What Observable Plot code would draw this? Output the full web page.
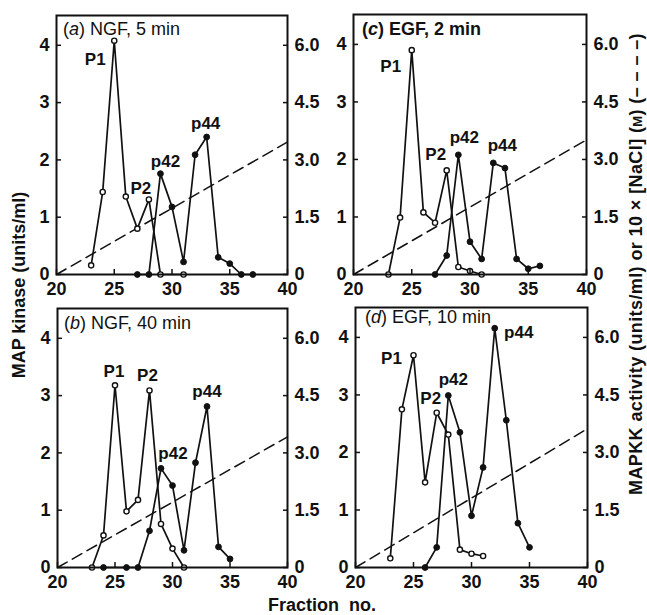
<!DOCTYPE html>
<html><head><meta charset="utf-8">
<script src="https://cdn.jsdelivr.net/npm/d3@7"></script>
<script src="https://cdn.jsdelivr.net/npm/@observablehq/plot@0.6"></script>
<style>
body{margin:0;background:#fff;}
#chart{position:relative;width:647px;height:615px;overflow:hidden;background:#fff;font-family:"Liberation Sans",Arial,Helvetica,sans-serif;}
#chart > svg{position:absolute;}
</style></head><body><div id="chart"></div>
<script>
// ---- axes / ticks ----
const xTicks = [20, 25, 30, 35, 40];
const leftTicks = [0, 1, 2, 3, 4];
const leftTickLabels = ["0", "1", "2", "3", "4"];
const rightTickLabels = ["0", "1.5", "3.0", "4.5", "6.0"];
const fractionRange = [20, 40];
const mapKinaseMax = 4.52;

// ---- (a) NGF, 5 min ----
const aOpenX = [23, 24, 25, 26, 27, 28, 29, 31];
const aOpenY = [0.16, 1.44, 4.08, 1.36, 0.80, 1.31, 0, 0];
const aClosedX = [27, 28, 29, 30, 31, 32, 33, 34, 35, 36, 37];
const aClosedY = [0, 0, 1.76, 1.18, 0.22, 2.09, 2.40, 0.30, 0.19, 0, 0];
const aNaCl = [0, 3.47];

// ---- (b) NGF, 40 min ----
const bOpenX = [23, 24, 25, 26, 27, 28, 29, 30, 31];
const bOpenY = [0, 0.56, 3.18, 0.98, 1.18, 3.09, 0.76, 0.33, 0];
const bClosedX = [24, 26, 27, 28, 29, 30, 31, 32, 33, 34, 35];
const bClosedY = [0, 0, 0, 0.64, 1.73, 1.43, 0.30, 1.83, 2.81, 0.36, 0.15];
const bNaCl = [0, 3.42];

// ---- (c) EGF, 2 min ----
const cOpenX = [23, 24, 25, 26, 27, 28, 29, 30, 31];
const cOpenY = [0, 0.99, 3.90, 1.08, 0.90, 1.81, 0.13, 0.06, 0];
const cClosedX = [27, 28, 29, 30, 31, 32, 33, 34, 35, 36];
const cClosedY = [0, 0.33, 2.08, 0.57, 0.27, 1.94, 1.85, 0.27, 0.10, 0.15];
const cNaCl = [0, 3.51];

// ---- (d) EGF, 10 min ----
const dOpenX = [23, 24, 25, 26, 27, 28, 29, 30, 31];
const dOpenY = [0.16, 2.75, 3.69, 1.48, 2.69, 2.31, 0.31, 0.24, 0.20];
const dClosedX = [26, 27, 28, 29, 30, 31, 32, 33, 34, 35];
const dClosedY = [0, 0.35, 2.99, 2.35, 0.90, 1.74, 4.16, 2.56, 0.77, 0.35];
const dNaCl = [0, 3.62];

// ---- peak labels (anchored at the peak fraction) ----
const peakNames = ["P1", "P2", "p42", "p44"];
const aPeakX = [25, 28, 29, 33];
const bPeakX = [25, 28, 29, 33];
const cPeakX = [25, 28, 29, 32];
const dPeakX = [25, 27, 28, 32];

// ---- panel titles ----
const panelLetters = ["a", "b", "c", "d"];
const panelTitles = [" NGF, 5 min", " NGF, 40 min", " EGF, 2 min", " EGF, 10 min"];

// ---- label offsets (style) ----
const aLabelOff = [[-19, 19], [-8, -11], [5, -12], [-1, -13]];
const bLabelOff = [[-1, -14], [-2, -15], [12, -15], [0, -15]];
const cLabelOff = [[-21, 16], [-11, -16], [6, -17], [9, -17]];
const dLabelOff = [[-22, 3], [-6, -14], [5, -16], [24, 4]];

function pts(X, Y) { return X.map((x, i) => ({x, y: Y[i]})); }
function labelsFor(peakX, openX, openY, closedX, closedY, off) {
  return peakNames.map((name, i) => {
    const isOpen = name[0] === "P";
    const X = isOpen ? openX : closedX, Y = isOpen ? openY : closedY;
    const j = X.indexOf(peakX[i]);
    return {name, x: peakX[i], y: Y[j], dx: off[i][0], dy: off[i][1]};
  });
}

const panels = [
  {open: pts(aOpenX, aOpenY), closed: pts(aClosedX, aClosedY), nacl: aNaCl,
   labels: labelsFor(aPeakX, aOpenX, aOpenY, aClosedX, aClosedY, aLabelOff),
   box: {left: 0, top: 0, width: 320, height: 296, ml: 56, mr: 33, mt: 15, mb: 22}},
  {open: pts(bOpenX, bOpenY), closed: pts(bClosedX, bClosedY), nacl: bNaCl,
   labels: labelsFor(bPeakX, bOpenX, bOpenY, bClosedX, bClosedY, bLabelOff),
   box: {left: 0, top: 296, width: 320, height: 319, ml: 57, mr: 33, mt: 12, mb: 48}},
  {open: pts(cOpenX, cOpenY), closed: pts(cClosedX, cClosedY), nacl: cNaCl,
   labels: labelsFor(cPeakX, cOpenX, cOpenY, cClosedX, cClosedY, cLabelOff),
   box: {left: 320, top: 0, width: 327, height: 296, ml: 33, mr: 61, mt: 14, mb: 22}},
  {open: pts(dOpenX, dOpenY), closed: pts(dClosedX, dClosedY), nacl: dNaCl,
   labels: labelsFor(dPeakX, dOpenX, dOpenY, dClosedX, dClosedY, dLabelOff),
   box: {left: 320, top: 296, width: 327, height: 319, ml: 35, mr: 60, mt: 11, mb: 48}}
];

const ink = "#111";
const font = '"Liberation Sans", Arial, Helvetica, sans-serif';
const chart = document.getElementById("chart");

panels.forEach(p => {
  const b = p.box;
  const naclLine = fractionRange.map((x, i) => ({x, y: p.nacl[i] / 1.5}));
  const labelMarks = p.labels.map(l => Plot.text([l], {x: "x", y: "y", text: "name", dx: l.dx, dy: l.dy, fontSize: 17, fontWeight: "bold", fill: ink}));
  const svg = Plot.plot({
    width: b.width, height: b.height,
    marginLeft: b.ml, marginRight: b.mr, marginTop: b.mt, marginBottom: b.mb,
    x: {domain: fractionRange},
    y: {domain: [0, mapKinaseMax]},
    style: {fontFamily: font, fontSize: "18px", fontWeight: "bold", background: "transparent", overflow: "visible", color: ink},
    marks: [
      Plot.line(naclLine, {x: "x", y: "y", stroke: ink, strokeWidth: 1.5, strokeDasharray: "11,6"}),
      Plot.line(p.open, {x: "x", y: "y", stroke: ink, strokeWidth: 1.7}),
      Plot.line(p.closed, {x: "x", y: "y", stroke: ink, strokeWidth: 1.7}),
      Plot.dot(p.open, {x: "x", y: "y", r: 2.6, fill: "white", stroke: ink, strokeWidth: 1.4}),
      Plot.dot(p.closed, {x: "x", y: "y", r: 2.9, fill: ink, stroke: ink, strokeWidth: 1}),
      ...labelMarks,
      Plot.frame({stroke: ink, strokeWidth: 2}),
      Plot.axisX({ticks: xTicks, tickSize: -5, tickPadding: 13, strokeWidth: 1.5, label: null, fontSize: 18, fontWeight: "bold"}),
      Plot.axisY({ticks: leftTicks, tickFormat: d => leftTickLabels[leftTicks.indexOf(d)], tickSize: -5, tickPadding: 12, strokeWidth: 1.5, label: null, fontSize: 18, fontWeight: "bold"}),
      Plot.axisY({anchor: "right", ticks: leftTicks, tickFormat: d => rightTickLabels[leftTicks.indexOf(d)], tickSize: -5, tickPadding: 12, strokeWidth: 1.5, label: null, fontSize: 18, fontWeight: "bold"})
    ]
  });
  svg.style.left = b.left + "px";
  svg.style.top = b.top + "px";
  chart.appendChild(svg);
});

// ---- overlay: panel titles and axis titles ----
const ov = d3.select(chart).append("svg")
  .attr("width", 647).attr("height", 615)
  .style("left", "0px").style("top", "0px").style("pointer-events", "none")
  .attr("font-family", font)
  .attr("fill", ink);

const titlePos = [[63, 35, "normal"], [64, 329, "normal"], [362, 35, "bold"], [365, 323, "normal"]];
panelLetters.forEach((L, i) => {
  const t = ov.append("text").attr("x", titlePos[i][0]).attr("y", titlePos[i][1])
    .attr("font-size", 18).attr("font-weight", titlePos[i][2]);
  t.append("tspan").text("(");
  t.append("tspan").attr("font-style", "italic").text(L);
  t.append("tspan").text(")" + panelTitles[i]);
});

ov.append("text").attr("transform", "translate(25,285) rotate(-90)")
  .attr("text-anchor", "middle").attr("font-size", 18).attr("font-weight", "bold")
  .text("MAP kinase (units/ml)");

const rt = ov.append("text").attr("transform", "translate(642,264) rotate(-90)")
  .attr("text-anchor", "middle").attr("font-size", 18).attr("font-weight", "bold")
  .attr("letter-spacing", 0.4);
rt.append("tspan").text("MAPKK activity (units/ml) or 10 \u00D7 [NaCl] (");
rt.append("tspan").attr("font-size", 13).text("M");
rt.append("tspan").text(") (\u2013 \u2013 \u2013 \u2013)");

ov.append("text").attr("x", 322).attr("y", 611).attr("text-anchor", "middle")
  .attr("font-size", 18).attr("font-weight", "bold")
  .text("Fraction\u00A0 no.");
</script></body></html>
